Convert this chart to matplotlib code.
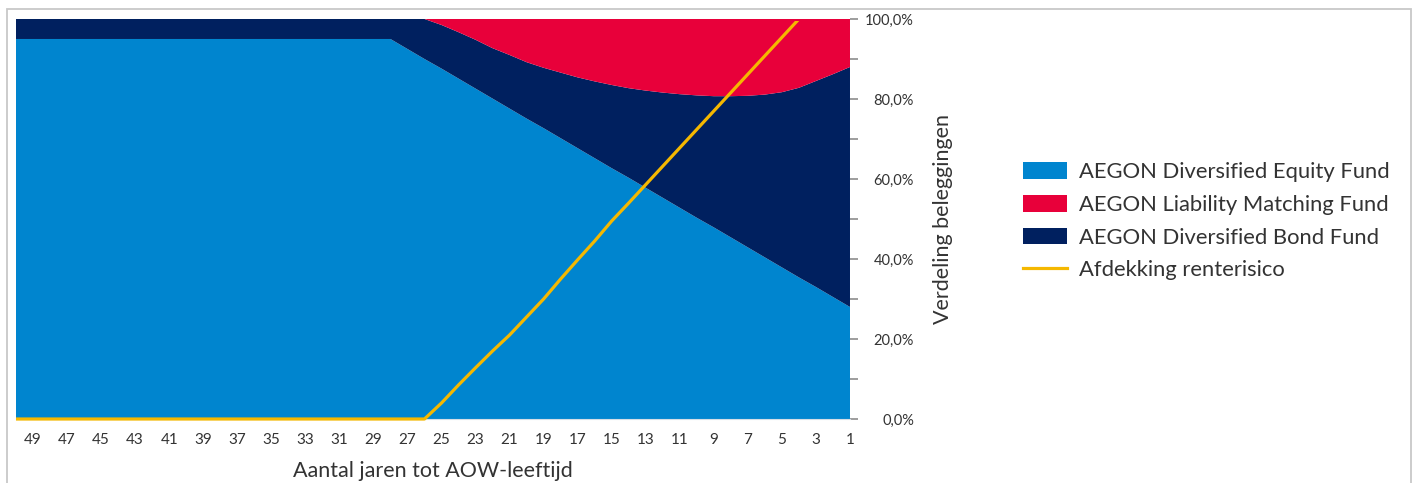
import matplotlib
matplotlib.use('Agg')
import matplotlib.pyplot as plt
from matplotlib.patches import Rectangle
from matplotlib.ticker import FuncFormatter, MultipleLocator

plt.rcParams['font.family'] = ['Lato', 'DejaVu Sans']

# years until state pension age (AOW), left = far away
years = list(range(50, 0, -1))

equity = [95.0] * 23 + [
    92.5, 90.0, 87.6, 85.1, 82.6, 80.1, 77.6, 75.1, 72.7, 70.2,
    67.7, 65.2, 62.7, 60.3, 57.8, 55.3, 52.8, 50.3, 47.9, 45.4,
    42.9, 40.4, 37.9, 35.4, 33.0, 30.5, 28.0]

liability = [0.0] * 25 + [
    1.5, 3.3, 5.2, 7.3, 9.0, 10.8, 12.2, 13.4, 14.6, 15.6,
    16.5, 17.3, 17.9, 18.4, 18.8, 19.1, 19.3, 19.3, 19.2, 18.9,
    18.3, 17.2, 15.5, 13.8, 12.0]

bond = [5.0] * 23 + [
    7.5, 10.0, 10.9, 11.6, 12.2, 12.6, 13.4, 14.1, 15.1, 16.4,
    17.7, 19.2, 20.8, 22.4, 24.3, 26.3, 28.4, 30.6, 32.8, 35.3,
    37.9, 40.7, 43.8, 47.4, 51.5, 55.7, 60.0]

hedge = [0.0] * 25 + [
    4.0, 8.5, 12.8, 17.0, 21.0, 25.5, 30.0, 35.0, 39.8, 44.5,
    49.5, 54.0, 58.6, 63.2, 67.8, 72.4, 77.0, 81.6, 86.2, 90.8,
    95.4, 100.0, 100.0, 100.0, 100.0]

labels = ['AEGON Diversified Equity Fund', 'AEGON Liability Matching Fund',
          'AEGON Diversified Bond Fund', 'Afdekking renterisico']
colors = ['#0085CF', '#E8003A', '#00205F', '#F5B800']

fig = plt.figure(figsize=(14.15, 4.83), dpi=100)
ax = fig.add_axes([0.0113, 0.1325, 0.5894, 0.8282])

# stacking order: equity at the bottom, bond in the middle, liability on top
p_eq, p_bd, p_li = ax.stackplot(years, equity, bond, liability,
                                colors=[colors[0], colors[2], colors[1]], lw=0)
ln, = ax.plot(years, hedge, color=colors[3], lw=2.3, zorder=5)
# let the line show below the axis but not along the top edge
clip = Rectangle((0, -0.05), 1, 1.046, transform=ax.transAxes)
ln.set_clip_path(clip)

ax.set_xlim(50, 1)
ax.set_ylim(0, 100)
ax.set_xticks(list(range(49, 0, -2)))
ax.tick_params(axis='x', length=0, pad=10, labelsize=11, labelcolor='#333333')

ax.yaxis.tick_right()
ax.yaxis.set_label_position('right')
ax.yaxis.set_major_locator(MultipleLocator(20))
ax.yaxis.set_minor_locator(MultipleLocator(10))
ax.yaxis.set_major_formatter(FuncFormatter(lambda v, p: f'{v:.1f}%'.replace('.', ',')))
ax.tick_params(axis='y', which='both', length=6, width=1.2, color='#8c8c8c',
               labelsize=10.5, labelcolor='#333333', pad=40)
for t in ax.get_yticklabels():
    t.set_horizontalalignment('right')

for s in ['left', 'top', 'right']:
    ax.spines[s].set_visible(False)
ax.spines['bottom'].set_color('#D5DEE6')

ax.set_xlabel('Aantal jaren tot AOW-leeftijd', fontsize=15.5, color='#333333', labelpad=10)
ax.set_ylabel('Verdeling beleggingen', fontsize=15.5, color='#333333', labelpad=14)

fig.legend([p_eq, p_li, p_bd, ln], labels, loc='center left',
           bbox_to_anchor=(0.709, 0.542), frameon=False, fontsize=15.8,
           handlelength=2.0, handleheight=0.8, handletextpad=0.55,
           labelspacing=0.58, labelcolor='#333333')

fig.patches.append(Rectangle((7 / 1415, -0.1), 1404 / 1415, 1.1 - 9 / 483,
                             transform=fig.transFigure, fill=False,
                             edgecolor='#C8C8C8', lw=1.3))

fig.savefig('out.png', dpi=100)
